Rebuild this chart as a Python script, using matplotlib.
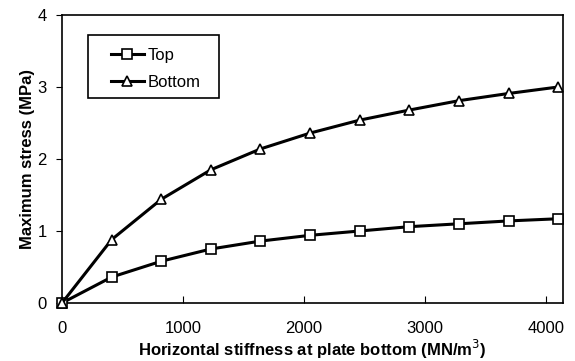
import matplotlib
matplotlib.use("Agg")
import matplotlib.pyplot as plt
from matplotlib.patches import Rectangle

plt.rcParams['font.family'] = ['Liberation Sans', 'DejaVu Sans']

stiffness = [0, 410, 820, 1230, 1640, 2050, 2460, 2870, 3280, 3690, 4100]
top = [0.0, 0.36, 0.58, 0.75, 0.86, 0.94, 1.00, 1.06, 1.10, 1.14, 1.17]
bottom = [0.0, 0.88, 1.44, 1.85, 2.14, 2.36, 2.54, 2.68, 2.81, 2.91, 3.00]
xticks = [0, 1000, 2000, 3000, 4000]
yticks = [0, 1, 2, 3, 4]

fig = plt.figure(figsize=(5.75, 3.61), dpi=100)
ax = fig.add_axes([62/575, 1 - 303/361, (563-62)/575, (303-15)/361])

ax.plot(stiffness, top, color='black', lw=2.2, marker='s', ms=7.5,
        mfc='white', mec='black', mew=1.2, label='Top', clip_on=False, zorder=3)
ax.plot(stiffness, bottom, color='black', lw=2.2, marker='^', ms=7.5,
        mfc='white', mec='black', mew=1.2, label='Bottom', clip_on=False, zorder=3)

ax.set_xlim(0, 4140)
ax.set_ylim(0, 4)
ax.set_xticks(xticks)
ax.set_yticks(yticks)
ax.tick_params(axis='x', direction='in', length=5, labelsize=12, pad=13)
ax.tick_params(axis='y', direction='out', length=4, labelsize=12, pad=7)
for s in ax.spines.values():
    s.set_linewidth(1.2)

ax.set_xlabel('Horizontal stiffness at plate bottom (MN/m$^3$)', fontsize=12,
              fontweight='bold', labelpad=1)
ax.set_ylabel('Maximum stress (MPa)', fontsize=12, fontweight='bold', labelpad=2)

# legend frame
ax.add_patch(Rectangle((0.052, 0.712), 0.261, 0.219, transform=ax.transAxes,
                       facecolor='white', edgecolor='black', lw=1.2, zorder=4))
leg = ax.legend(loc='upper left', bbox_to_anchor=(0.097, 0.887), fontsize=12,
                frameon=False, handlelength=2.0, labelspacing=0.72,
                borderpad=0, borderaxespad=0, handletextpad=0.25)
leg.set_zorder(5)

fig.savefig('out.png', dpi=100)
